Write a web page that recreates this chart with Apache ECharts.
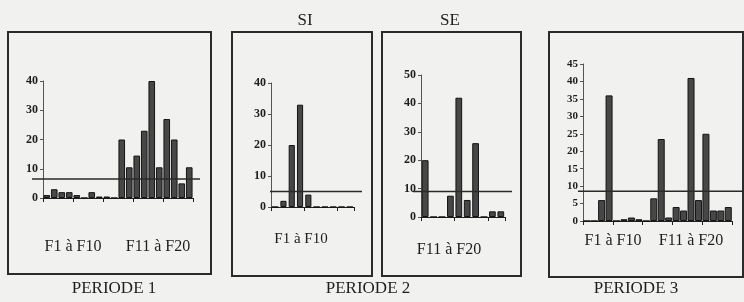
<!DOCTYPE html>
<html>
<head>
<meta charset="utf-8">
<script src="https://cdn.jsdelivr.net/npm/echarts@6/dist/echarts.min.js"></script>
<style>
  html, body { margin: 0; padding: 0; background: #f1f1ef; }
  #chart { width: 744px; height: 302px; }
</style>
</head>
<body>
<div id="chart"></div>
<script>
// categories
const allFactors = ['F1','F2','F3','F4','F5','F6','F7','F8','F9','F10','F11','F12','F13','F14','F15','F16','F17','F18','F19','F20']
const siFactors = allFactors.slice(0, 10)
const seFactors = allFactors.slice(10)

// values
const periode1Values = [1, 3, 2, 2, 1, 0, 2, 0.5, 0.5, 0, 20, 10.5, 14.5, 23, 40, 10.5, 27, 20, 5, 10.5]
const siValues = [0, 2, 20, 33, 4, 0, 0, 0, 0, 0]
const seValues = [20, 0, 0, 7.5, 42, 6, 26, 0, 2, 2]
const periode3Values = [0, 0, 6, 36, 0, 0.5, 1, 0.5, 0, 6.5, 23.5, 1, 4, 3, 41, 6, 25, 3, 3, 4]
const thresholds = [6.5, 5, 9, 8.5]

// y axis ranges
const yMax = [40, 40, 50, 45]
const yStep = [10, 10, 10, 5]

// texts
const panelTitles = ['SI', 'SE']
const periodTitles = ['PERIODE 1', 'PERIODE 2', 'PERIODE 3']
const groupLabels = ['F1 à F10', 'F11 à F20']

const serif = 'Liberation Serif'
const ink = '#1e1e1e'

// layout of each panel: bar grid + wider grid for the threshold line
const panels = [
  { cats: allFactors, values: periode1Values, bar: { left: 43, top: 81, width: 150, height: 117 }, line: [32, 200], gap: '12%', fs: 12 },
  { cats: siFactors, values: siValues, bar: { left: 271, top: 83, width: 83, height: 124 }, line: [270, 362], gap: '26%', fs: 12 },
  { cats: seFactors, values: seValues, bar: { left: 421, top: 75, width: 84, height: 142 }, line: [413, 512], gap: '20%', fs: 12 },
  { cats: allFactors, values: periode3Values, bar: { left: 583, top: 64, width: 149, height: 157 }, line: [578, 744], gap: '6%', fs: 11 }
]

const grid = []
const xAxis = []
const yAxis = []
const series = []

panels.forEach((p, i) => {
  const g = grid.length
  grid.push({ ...p.bar })
  grid.push({ left: p.line[0], width: p.line[1] - p.line[0], top: p.bar.top, height: p.bar.height })

  xAxis.push({
    gridIndex: g,
    type: 'category',
    data: p.cats,
    axisLine: { lineStyle: { color: ink, width: 1 } },
    axisTick: { show: true, length: 4, lineStyle: { color: ink } },
    axisLabel: { show: false }
  })
  xAxis.push({ gridIndex: g + 1, type: 'value', min: 0, max: 1, show: false })

  yAxis.push({
    gridIndex: g,
    type: 'value',
    min: 0,
    max: yMax[i],
    interval: yStep[i],
    axisLine: { show: true, lineStyle: { color: '#555', width: 1 } },
    axisTick: { show: true, length: 3, lineStyle: { color: '#555' } },
    splitLine: { show: false },
    axisLabel: { color: ink, fontFamily: serif, fontSize: p.fs, fontWeight: 'bold', margin: 5 }
  })
  yAxis.push({ gridIndex: g + 1, type: 'value', min: 0, max: yMax[i], show: false })

  series.push({
    type: 'bar',
    xAxisIndex: g,
    yAxisIndex: g,
    data: p.values,
    barCategoryGap: p.gap,
    itemStyle: { color: '#474747', borderColor: '#141414', borderWidth: 1 },
    silent: true
  })
  series.push({
    type: 'line',
    xAxisIndex: g + 1,
    yAxisIndex: g + 1,
    data: [[0, thresholds[i]], [1, thresholds[i]]],
    showSymbol: false,
    lineStyle: { color: '#2a2a2a', width: 1.5 },
    silent: true
  })
})

const frame = (x, y, w, h) => ({
  type: 'rect',
  shape: { x, y, width: w, height: h },
  style: { fill: 'none', stroke: '#2b2b2b', lineWidth: 2 },
  silent: true
})

const label = (text, x, y, size) => ({
  type: 'text',
  x, y,
  style: { text, fill: ink, font: size + 'px "' + serif + '"', textAlign: 'center', textVerticalAlign: 'middle' },
  silent: true
})

const option = {
  backgroundColor: '#f1f1ef',
  animation: false,
  grid,
  xAxis,
  yAxis,
  series,
  graphic: [
    frame(8, 32, 203, 242),
    frame(232, 32, 140, 244),
    frame(382, 32, 139, 244),
    frame(549, 32, 194, 245),
    label(panelTitles[0], 305, 21, 17),
    label(panelTitles[1], 450, 21, 17),
    label(periodTitles[0], 114, 289, 17),
    label(periodTitles[1], 368, 289, 17),
    label(periodTitles[2], 636, 289, 17),
    label(groupLabels[0], 73, 247, 16),
    label(groupLabels[1], 158, 247, 16),
    label(groupLabels[0], 301, 239, 15),
    label(groupLabels[1], 449, 250, 16),
    label(groupLabels[0], 613, 241, 16),
    label(groupLabels[1], 691, 241, 16)
  ]
}

const chart = echarts.init(document.getElementById('chart'))
chart.setOption(option)
</script>
</body>
</html>
